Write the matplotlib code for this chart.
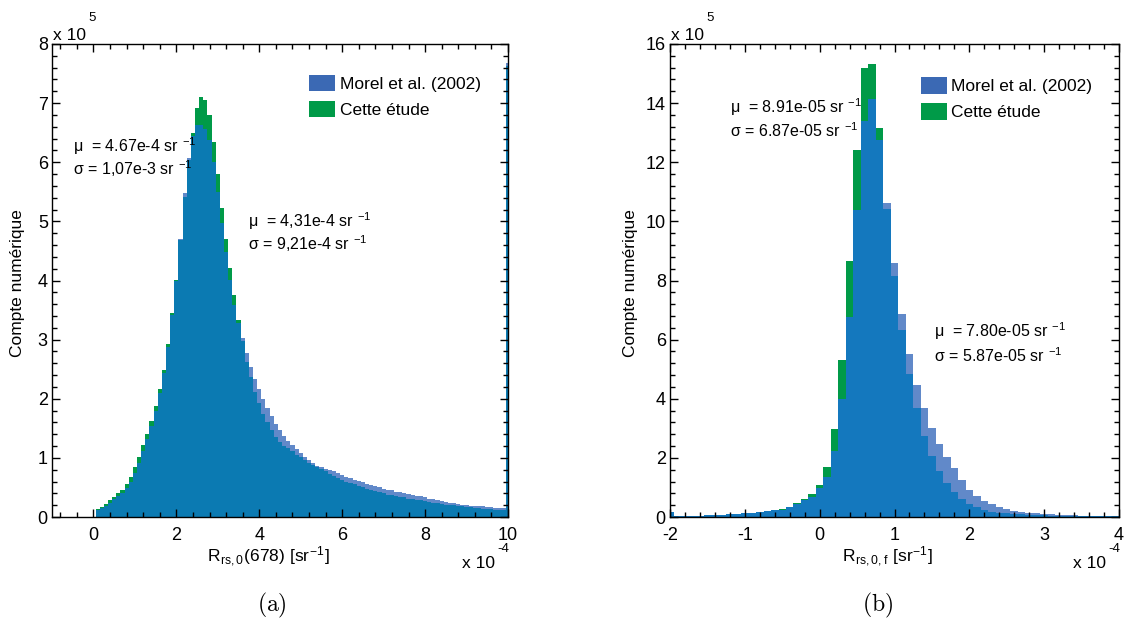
import matplotlib

matplotlib.use("Agg")

import matplotlib.pyplot as plt
import numpy as np
from matplotlib.patches import Patch
from matplotlib.ticker import MultipleLocator

plt.rcParams["font.family"] = ["Liberation Sans", "DejaVu Sans"]
plt.rcParams["mathtext.fontset"] = "cm"
plt.rcParams["axes.unicode_minus"] = False

W, H = 1148, 624

GREEN = "#009a48"
MOREL_LIGHT = "#6189c9"
MOREL_KEY = "#3b69b4"
OVERLAP_A = "#0b7ab2"
OVERLAP_B = "#1478be"

LABELS = ["Morel et al. (2002)", "Cette étude"]

# (a) Rrs,0(678): bin centres in 1e-4 sr^-1, counts in 1e5
A_FIRST_CENTRE = 0.1
A_BIN_WIDTH = 0.1
A_ETUDE = [
    0.13, 0.17, 0.22, 0.28, 0.34, 0.40, 0.46, 0.55, 0.67, 0.84,
    1.02, 1.22, 1.41, 1.63, 1.87, 2.16, 2.49, 2.92, 3.45, 4.01,
    4.69, 5.42, 6.04, 6.49, 6.92, 7.10, 7.06, 6.80, 6.35, 5.80,
    5.22, 4.71, 4.21, 3.76, 3.34, 2.97, 2.63, 2.37, 2.12, 1.93,
    1.75, 1.60, 1.47, 1.36, 1.27, 1.20, 1.16, 1.11, 1.05, 1.01,
    0.96, 0.92, 0.88, 0.85, 0.81, 0.77, 0.73, 0.69, 0.66, 0.63,
    0.60, 0.57, 0.55, 0.52, 0.50, 0.48, 0.46, 0.44, 0.42, 0.40,
    0.38, 0.37, 0.35, 0.34, 0.33, 0.31, 0.30, 0.29, 0.28, 0.27,
    0.26, 0.24, 0.23, 0.22, 0.21, 0.21, 0.20, 0.19, 0.18, 0.17,
    0.17, 0.16, 0.15, 0.14, 0.13, 0.13, 0.12, 0.12, 0.11, 7.62,
]
A_MOREL = [
    0.12, 0.15, 0.19, 0.24, 0.30, 0.35, 0.41, 0.49, 0.60, 0.75,
    0.92, 1.12, 1.32, 1.54, 1.79, 2.09, 2.43, 2.88, 3.42, 4.00,
    4.70, 5.48, 6.08, 6.45, 6.63, 6.63, 6.56, 6.38, 6.00, 5.50,
    4.97, 4.49, 4.01, 3.59, 3.28, 3.02, 2.77, 2.54, 2.33, 2.16,
    1.99, 1.84, 1.70, 1.57, 1.47, 1.37, 1.29, 1.21, 1.15, 1.09,
    1.02, 0.96, 0.92, 0.87, 0.85, 0.82, 0.79, 0.77, 0.74, 0.71,
    0.68, 0.66, 0.63, 0.61, 0.59, 0.56, 0.54, 0.52, 0.50, 0.48,
    0.46, 0.45, 0.43, 0.42, 0.40, 0.39, 0.37, 0.36, 0.35, 0.33,
    0.31, 0.30, 0.28, 0.27, 0.26, 0.24, 0.23, 0.22, 0.21, 0.20,
    0.19, 0.19, 0.18, 0.18, 0.17, 0.17, 0.16, 0.16, 0.15, 7.68,
]

# (b) Rrs,0,f: bin centres in 1e-4 sr^-1, counts in 1e5
B_FIRST_CENTRE = -2.0
B_BIN_WIDTH = 0.1
B_ETUDE = [
    0.17,
    0.03, 0.03, 0.04, 0.05, 0.06, 0.07, 0.08, 0.09, 0.11, 0.13,
    0.15, 0.17, 0.19, 0.22, 0.26, 0.35, 0.46, 0.61, 0.77, 1.08,
    1.70, 2.96, 5.31, 8.67, 12.42, 15.18, 15.31, 13.17, 10.42, 8.15,
    6.31, 4.84, 3.68, 2.74, 2.06, 1.56, 1.16, 0.86, 0.60, 0.44,
    0.33, 0.24, 0.18, 0.15, 0.12, 0.10, 0.09, 0.08, 0.07, 0.06,
    0.05, 0.05, 0.04, 0.04, 0.03, 0.03, 0.03, 0.02, 0.02, 0.02,
]
B_MOREL = [
    0.17,
    0.03, 0.03, 0.04, 0.05, 0.06, 0.07, 0.08, 0.09, 0.11, 0.13,
    0.15, 0.17, 0.19, 0.22, 0.25, 0.33, 0.44, 0.58, 0.69, 0.97,
    1.36, 2.24, 3.98, 6.78, 10.39, 13.38, 14.13, 12.76, 10.61, 8.58,
    6.86, 5.51, 4.46, 3.68, 3.00, 2.47, 2.04, 1.65, 1.25, 0.92,
    0.72, 0.55, 0.43, 0.34, 0.26, 0.21, 0.18, 0.14, 0.12, 0.10,
    0.09, 0.08, 0.07, 0.06, 0.05, 0.05, 0.04, 0.04, 0.03, 0.03,
]


def px(x, y):
    return x / W, 1 - y / H


def draw_hist(ax, first_centre, width, morel, etude, overlap_color):
    morel = np.asarray(morel)
    etude = np.asarray(etude)
    edges = first_centre - width / 2 + width * np.arange(len(morel) + 1)
    ax.stairs(etude, edges, fill=True, color=GREEN, linewidth=0)
    ax.stairs(morel, edges, fill=True, color=MOREL_LIGHT, linewidth=0)
    ax.stairs(np.minimum(morel, etude), edges, fill=True, color=overlap_color, linewidth=0)


def style_axes(ax, xlim, ylim, xmajor, xminor, ymajor, yminor):
    ax.set_xlim(*xlim)
    ax.set_ylim(*ylim)
    ax.xaxis.set_major_locator(MultipleLocator(xmajor))
    ax.xaxis.set_minor_locator(MultipleLocator(xminor))
    ax.yaxis.set_major_locator(MultipleLocator(ymajor))
    ax.yaxis.set_minor_locator(MultipleLocator(yminor))
    ax.tick_params(which="both", direction="in", top=True, right=True, width=1, labelsize=13)
    ax.tick_params(which="major", length=6)
    ax.tick_params(which="minor", length=3.5)
    ax.tick_params(axis="x", pad=7)
    ax.tick_params(axis="y", pad=3)
    for spine in ax.spines.values():
        spine.set_linewidth(1)
        spine.set_color("black")


def add_legend(ax, anchor):
    handles = [
        Patch(facecolor=MOREL_KEY, edgecolor="none"),
        Patch(facecolor=GREEN, edgecolor="none"),
    ]
    ax.legend(
        handles, LABELS, loc="upper left", bbox_to_anchor=anchor, frameon=False,
        fontsize=12.5, handlelength=1.5, handleheight=1.1, handletextpad=0.25,
        labelspacing=0.5, borderpad=0, borderaxespad=0,
    )


def stat_text(fig, x, y, text):
    fig.text(*px(x, y), text, fontsize=11.5, ha="left", va="baseline")


def main() -> None:
    fig = plt.figure(figsize=(W / 100, H / 100), dpi=100)
    ax_a = fig.add_axes([52 / W, 1 - 517 / H, 456 / W, 473 / H])
    ax_b = fig.add_axes([670 / W, 1 - 517 / H, 449 / W, 473 / H])

    draw_hist(ax_a, A_FIRST_CENTRE, A_BIN_WIDTH, A_MOREL, A_ETUDE, OVERLAP_A)
    style_axes(ax_a, (-1, 10), (0, 8), 2, 0.4, 1, 0.2)
    add_legend(ax_a, (0.564, 0.935))

    draw_hist(ax_b, B_FIRST_CENTRE, B_BIN_WIDTH, B_MOREL, B_ETUDE, OVERLAP_B)
    style_axes(ax_b, (-2, 4), (0, 16), 1, 0.2, 2, 0.4)
    add_legend(ax_b, (0.558, 0.930))

    sup = r"$^{\mathregular{-1}}$"
    stat_text(fig, 73, 152, "μ  = 4.67e-4 sr " + sup)
    stat_text(fig, 73, 175, "σ = 1,07e-3 sr " + sup)
    stat_text(fig, 248, 227, "μ  = 4,31e-4 sr " + sup)
    stat_text(fig, 248, 250, "σ = 9,21e-4 sr " + sup)
    stat_text(fig, 730, 113, "μ  = 8.91e-05 sr " + sup)
    stat_text(fig, 730, 137, "σ = 6.87e-05 sr " + sup)
    stat_text(fig, 934, 337, "μ  = 7.80e-05 sr " + sup)
    stat_text(fig, 934, 362, "σ = 5.87e-05 sr " + sup)

    # MATLAB-style exponent labels on both axes
    for x0, x1 in ((52, 508), (670, 1119)):
        fig.text(*px(x0 + 1, 40), "x 10", fontsize=12.5, ha="left", va="baseline")
        fig.text(*px(x0 + 36, 21), "5", fontsize=9.5, ha="left", va="baseline")
        fig.text(*px(x1 - 46, 568), "x 10", fontsize=12.5, ha="left", va="baseline")
        fig.text(*px(x1 - 11, 552), "-4", fontsize=9.5, ha="left", va="baseline")

    ylabel = "Compte numérique"
    fig.text(*px(18, 283), ylabel, fontsize=12.5, rotation=90, ha="center", va="center")
    fig.text(*px(630, 283), ylabel, fontsize=12.5, rotation=90, ha="center", va="center")

    fig.text(*px(268, 562), r"R$_{\mathregular{rs,0}}$(678) [sr$^{\mathregular{-1}}$]",
             fontsize=12.5, ha="center", va="baseline")
    fig.text(*px(888, 562), r"R$_{\mathregular{rs,0,f}}$ [sr$^{\mathregular{-1}}$]",
             fontsize=12.5, ha="center", va="baseline")

    fig.text(*px(272, 605), r"$\mathrm{(a)}$", fontsize=17, ha="center", va="center")
    fig.text(*px(878, 605), r"$\mathrm{(b)}$", fontsize=17, ha="center", va="center")

    fig.savefig("out.png", dpi=100)
    plt.close(fig)


if __name__ == "__main__":
    main()
